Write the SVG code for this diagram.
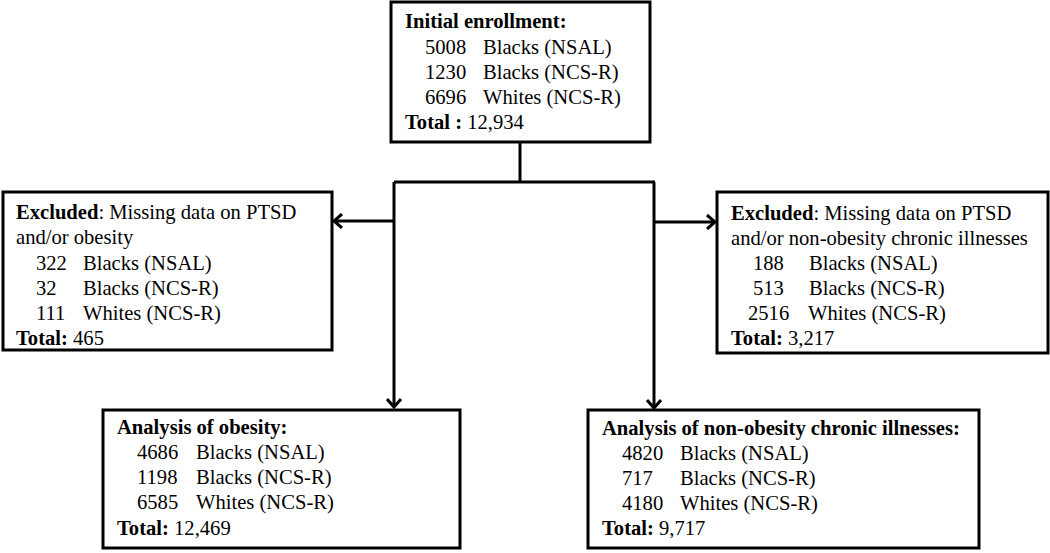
<svg xmlns="http://www.w3.org/2000/svg" width="1050" height="553" viewBox="0 0 1050 553">
<style>
.box{fill:#fff;stroke:#000;stroke-width:3}
.ln{fill:none;stroke:#000;stroke-width:3}
text{font-family:"Liberation Serif","Times New Roman",serif;font-size:20.6px;fill:#000}
.b{font-weight:bold}
</style>
<defs>
<marker id="ah" viewBox="-10 -8 12 16" markerWidth="12" markerHeight="16" refX="0" refY="0" orient="auto" markerUnits="userSpaceOnUse">
<path d="M-8,-7 L0,0 L-8,7" fill="none" stroke="#000" stroke-width="3"/>
</marker>
</defs>
<rect width="1050" height="553" fill="#fff"/>
<g id="connectors">
<path class="ln" d="M520,142 V182"/>
<path class="ln" d="M394,182 H655"/>
<path class="ln" d="M394,182 V407" marker-end="url(#ah)"/>
<path class="ln" d="M654,182 V408" marker-end="url(#ah)"/>
<path class="ln" d="M394,221 H334" marker-end="url(#ah)"/>
<path class="ln" d="M654,222 H715" marker-end="url(#ah)"/>
</g>
<g id="initial">
<rect class="box" x="391" y="2" width="259" height="140"/>
<text x="405" y="28" class="b">Initial enrollment:</text>
<text x="425" y="54">5008</text><text x="483" y="54">Blacks (NSAL)</text>
<text x="425" y="79">1230</text><text x="483" y="79">Blacks (NCS-R)</text>
<text x="425" y="104">6696</text><text x="483" y="104">Whites (NCS-R)</text>
<text x="405" y="129"><tspan class="b">Total :</tspan> 12,934</text>
</g>
<g id="excluded-left">
<rect class="box" x="3" y="192" width="329" height="158"/>
<text x="16" y="219"><tspan class="b">Excluded</tspan>: Missing data on PTSD</text>
<text x="16" y="244">and/or obesity</text>
<text x="36" y="270">322</text><text x="83" y="270">Blacks (NSAL)</text>
<text x="36" y="295">32</text><text x="83" y="295">Blacks (NCS-R)</text>
<text x="36" y="320">111</text><text x="83" y="320">Whites (NCS-R)</text>
<text x="16" y="345"><tspan class="b">Total:</tspan> 465</text>
</g>
<g id="excluded-right">
<rect class="box" x="717" y="192" width="331" height="161"/>
<text x="731" y="220"><tspan class="b">Excluded</tspan>: Missing data on PTSD</text>
<text x="731" y="245">and/or non-obesity chronic illnesses</text>
<text x="753" y="270">188</text><text x="809" y="270">Blacks (NSAL)</text>
<text x="753" y="295">513</text><text x="809" y="295">Blacks (NCS-R)</text>
<text x="748" y="320">2516</text><text x="808" y="320">Whites (NCS-R)</text>
<text x="731" y="345"><tspan class="b">Total:</tspan> 3,217</text>
</g>
<g id="analysis-obesity">
<rect class="box" x="103" y="410" width="357" height="138"/>
<text x="117" y="434" class="b">Analysis of obesity:</text>
<text x="137" y="459">4686</text><text x="196" y="459">Blacks (NSAL)</text>
<text x="137" y="484">1198</text><text x="196" y="484">Blacks (NCS-R)</text>
<text x="137" y="509">6585</text><text x="196" y="509">Whites (NCS-R)</text>
<text x="117" y="535"><tspan class="b">Total:</tspan> 12,469</text>
</g>
<g id="analysis-chronic">
<rect class="box" x="588" y="410" width="391" height="138"/>
<text x="602" y="435" class="b">Analysis of non-obesity chronic illnesses:</text>
<text x="622" y="460">4820</text><text x="680" y="460">Blacks (NSAL)</text>
<text x="622" y="485">717</text><text x="680" y="485">Blacks (NCS-R)</text>
<text x="622" y="510">4180</text><text x="680" y="510">Whites (NCS-R)</text>
<text x="602" y="535"><tspan class="b">Total:</tspan> 9,717</text>
</g>
</svg>
